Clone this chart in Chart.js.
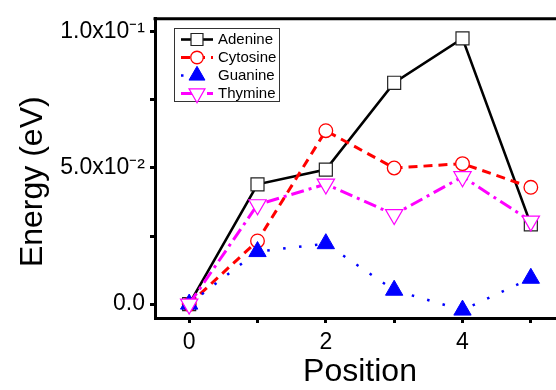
<!DOCTYPE html>
<html>
<head>
<meta charset="utf-8">
<script src="https://cdn.jsdelivr.net/npm/chart.js@4/dist/chart.umd.min.js"></script>
<style>
html,body{margin:0;padding:0;background:#fff;overflow:hidden;}
#wrap{width:556px;height:390px;overflow:hidden;position:relative;}
canvas{display:block;}
</style>
</head>
<body>
<div id="wrap"><canvas id="c" width="580" height="390"></canvas></div>
<script>
// ---- data ----
const positions = [0, 1, 2, 3, 4, 5];
const seriesNames = ["Adenine", "Cytosine", "Guanine", "Thymine"];
const adenine  = [0, 0.0440, 0.0494, 0.0813, 0.0976, 0.0293];
const cytosine = [0, 0.0232, 0.0637, 0.0500, 0.0516, 0.0429];
const guanine  = [0, 0.0193, 0.0222, 0.0051, -0.0022, 0.0095];
const thymine  = [0, 0.0365, 0.0441, 0.0329, 0.0468, 0.0305];
const xTickValues = [0, 1, 2, 3, 4, 5];
const xTickLabels = ["0", "", "2", "", "4", ""];
const yTickValues = [0, 0.025, 0.05, 0.075, 0.1];
const yTickLabels = ["0.0", "", "5.0x10\u207B\u00B2", "", "1.0x10\u207B\u00B9"];

const FONT = '"Liberation Sans", Arial, Helvetica, sans-serif';
Chart.defaults.font.family = FONT;
Chart.defaults.color = '#000';

function pts(arr){ return positions.map((p,i)=>({x:p, y:arr[i]})); }

const datasets = [
  {label: seriesNames[0], data: pts(adenine), borderColor:'#000', borderWidth:2.6, borderDash:[],
   pointStyle:'rect', pointRadius:9.2, pointBorderWidth:1.2, pointBorderColor:'#222', pointBackgroundColor:'#fff', order:4},
  {label: seriesNames[1], data: pts(cytosine), borderColor:'#ff0000', borderWidth:3, borderDash:[9,6],
   pointStyle:'circle', pointRadius:6.8, pointBorderWidth:1.3, pointBorderColor:'#ff0000', pointBackgroundColor:'#fff', order:3},
  {label: seriesNames[2], data: pts(guanine), borderColor:'#0000ff', borderWidth:2.5, borderDash:[2.5,13.5],
   pointStyle:'triangle', pointRadius:10, pointBorderWidth:1, pointBorderColor:'#0000ff', pointBackgroundColor:'#0000ff', order:2},
  {label: seriesNames[3], data: pts(thymine), borderColor:'#ff00ff', borderWidth:3, borderDash:[13,5,3,5],
   pointStyle:'triangle', pointRotation:180, pointRadius:10, pointBorderWidth:1.2, pointBorderColor:'#ff00ff', pointBackgroundColor:'#fff', order:1}
];
datasets.forEach(d=>{ d.tension=0; d.fill=false; d.clip=false; d.borderCapStyle='butt'; d.pointHoverRadius=d.pointRadius; });

function drawMarker(ctx, ds, x, y){
  const opts = {pointStyle: ds.pointStyle, radius: ds.pointRadius, rotation: ds.pointRotation||0, borderWidth: ds.pointBorderWidth};
  ctx.save();
  ctx.setLineDash([]);
  ctx.fillStyle = ds.pointBackgroundColor;
  ctx.strokeStyle = ds.pointBorderColor;
  ctx.lineWidth = ds.pointBorderWidth;
  if (Chart.helpers && Chart.helpers.drawPoint) {
    Chart.helpers.drawPoint(ctx, opts, x, y);
  }
  ctx.restore();
}

const framePlugin = {
  id: 'frame',
  afterDatasetsDraw(chart){
    const {ctx, chartArea} = chart;
    ctx.save();
    ctx.strokeStyle = '#000';
    ctx.lineWidth = 3;
    ctx.beginPath();
    ctx.moveTo(chartArea.left - 1.5, chartArea.top);
    ctx.lineTo(chartArea.right, chartArea.top);
    ctx.stroke();
    ctx.restore();
  }
};

const legendPlugin = {
  id: 'innerLegend',
  afterDraw(chart){
    const ctx = chart.ctx;
    const bx = 174.5, by = 28.5, bw = 105, bh = 73;
    ctx.save();
    ctx.fillStyle = '#fff';
    ctx.fillRect(bx, by, bw, bh);
    ctx.strokeStyle = '#333';
    ctx.lineWidth = 1;
    ctx.strokeRect(bx, by, bw, bh);
    chart.data.datasets.forEach((ds, i) => {
      const y = 39.5 + i * 18;
      ctx.save();
      ctx.strokeStyle = ds.borderColor;
      ctx.lineWidth = ds.borderWidth;
      ctx.setLineDash(ds.borderDash || []);
      ctx.beginPath();
      ctx.moveTo(181, y);
      ctx.lineTo(213, y);
      ctx.stroke();
      ctx.restore();
      const mds = Object.assign({}, ds, {pointRadius: ds.pointRadius * 0.92});
      drawMarker(ctx, mds, 197, y);
      ctx.fillStyle = '#000';
      ctx.font = '15px ' + FONT;
      ctx.textBaseline = 'middle';
      ctx.textAlign = 'left';
      ctx.fillText(ds.label, 218, y + 0.5);
    });
    ctx.restore();
  }
};

new Chart(document.getElementById('c'), {
  type: 'line',
  data: { datasets },
  options: {
    responsive: false,
    animation: false,
    events: [],
    layout: { padding: { top: 15, right: 15, left: 0, bottom: 0 } },
    plugins: { legend: { display: false }, tooltip: { enabled: false } },
    scales: {
      x: {
        type: 'linear', position: 'bottom', min: -0.5, max: 5.5,
        afterBuildTicks(s){ s.ticks = xTickValues.map(v => ({value: v})); },
        afterFit(s){ s.height = 72; },
        ticks: {
          autoSkip: false, maxRotation: 0, padding: 6,
          font: { size: 23 }, color: '#000',
          callback(v){ const i = xTickValues.indexOf(v); return i >= 0 ? xTickLabels[i] : ''; }
        },
        grid: { drawOnChartArea: false, drawTicks: true, tickLength: 5, tickWidth: 3, tickColor: '#000' },
        border: { display: true, color: '#000', width: 3 },
        title: { display: true, text: 'Position', font: { size: 32, lineHeight: 1 }, color: '#000', padding: { top: 0, bottom: 2 } }
      },
      y: {
        type: 'linear', position: 'left', min: -0.0051, max: 0.1048,
        afterBuildTicks(s){ s.ticks = yTickValues.map(v => ({value: v})); },
        afterFit(s){ s.width = 155; },
        ticks: {
          autoSkip: false, padding: 5,
          font: { size: 23 }, color: '#000',
          callback(v){
            for (let i = 0; i < yTickValues.length; i++) if (Math.abs(yTickValues[i] - v) < 1e-9) return yTickLabels[i];
            return '';
          }
        },
        grid: { drawOnChartArea: false, drawTicks: true, tickLength: 5, tickWidth: 3, tickColor: '#000' },
        border: { display: true, color: '#000', width: 3 },
        title: { display: true, text: 'Energy (eV)   ', font: { size: 32, lineHeight: 1 }, color: '#000', padding: { top: 17, bottom: 0 } }
      }
    }
  },
  plugins: [framePlugin, legendPlugin]
});
</script>
</body>
</html>
